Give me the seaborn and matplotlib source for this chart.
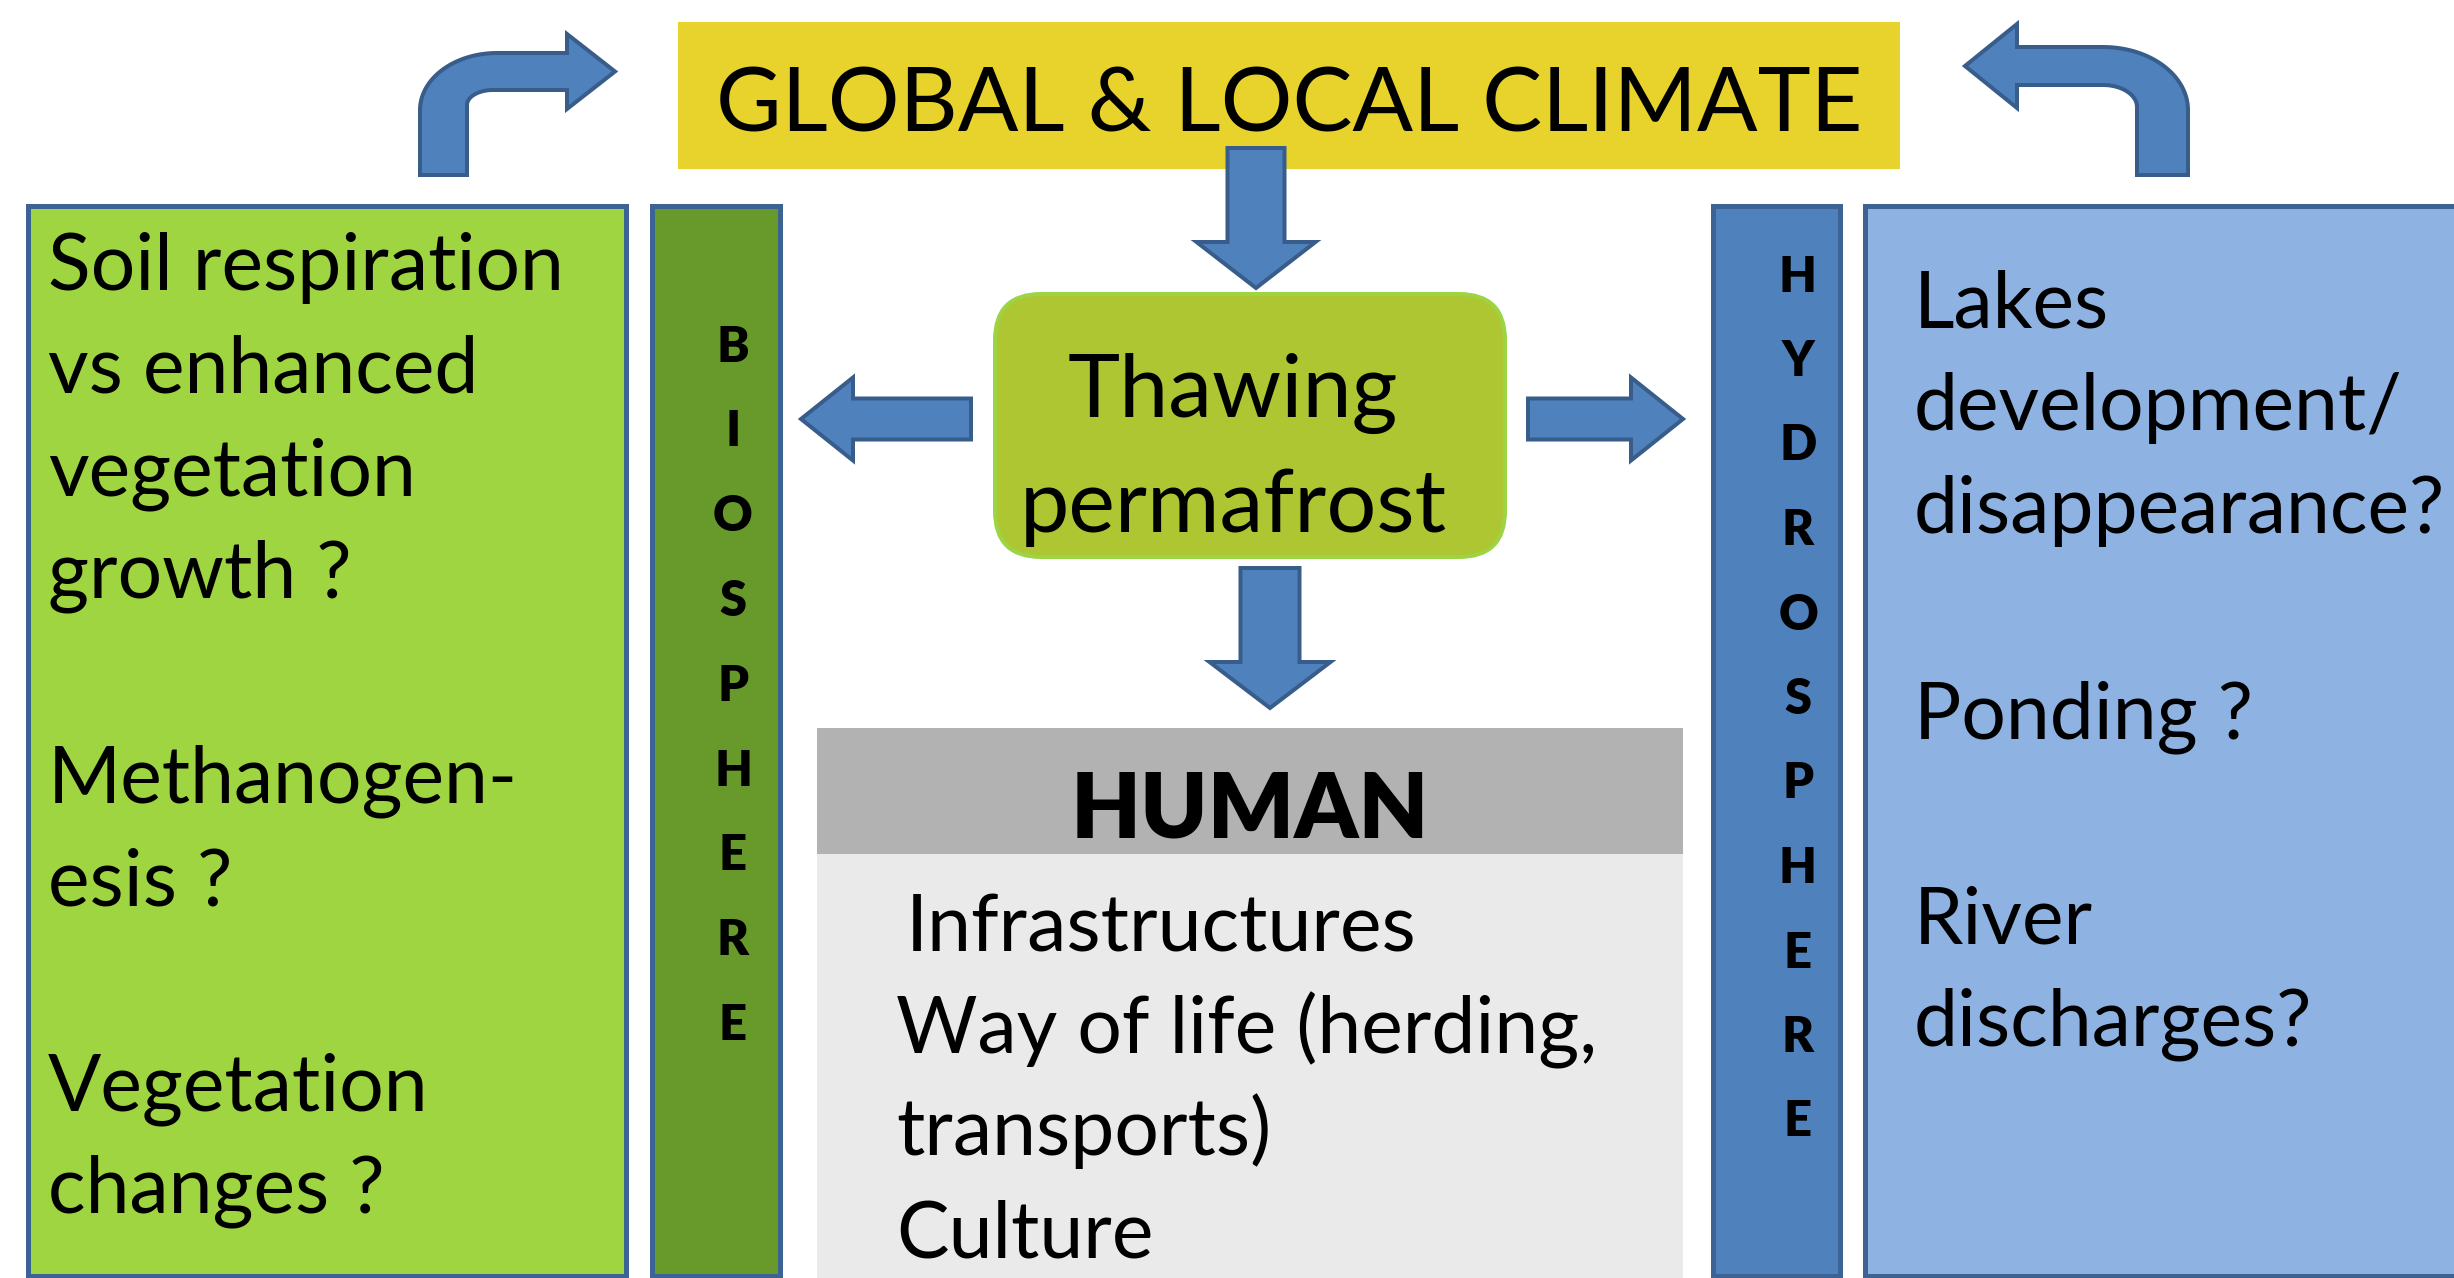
import matplotlib
matplotlib.use("Agg")
import numpy as np
import matplotlib.pyplot as plt
import seaborn as sns
from matplotlib import font_manager
from matplotlib.patches import Rectangle, FancyBboxPatch, Polygon
from matplotlib.path import Path

# ================= Text content =================
TITLE = "GLOBAL & LOCAL CLIMATE"
CENTER_LINES = ["Thawing", "permafrost"]
BIO_LINES = ["Soil respiration", "vs enhanced", "vegetation", "growth ?", "",
             "Methanogen-", "esis ?", "", "Vegetation", "changes ?"]
HYDRO_LINES = ["Lakes", "development/", "disappearance?", "", "Ponding ?", "",
               "River", "discharges?"]
HUMAN_TITLE = "HUMAN"
HUMAN_LINES = ["Infrastructures", "Way of life (herding,", "transports)", "Culture"]
BIO_LABEL = "BIOSPHERE"
HYDRO_LABEL = "HYDROSPHERE"

# ================= Colours =================
C = {
    "yellow": "#E8D22C",
    "bio_box": "#9FD540",
    "bio_bar": "#679A2A",
    "center": "#ADC632",
    "center_edge": "#9CD444",
    "hydro_bar": "#4F81BD",
    "hydro_box": "#8EB3E2",
    "edge": "#3D6394",
    "arrow": "#4F81BD",
    "arrow_edge": "#385D8A",
    "human_head": "#B2B2B2",
    "human_body": "#EAEAEA",
}

sns.set_theme(style="white")
available = {f.name for f in font_manager.fontManager.ttflist}
FONT = next(f for f in ["Lato", "Open Sans", "Noto Sans", "DejaVu Sans"] if f in available)
plt.rcParams["font.family"] = [FONT, "DejaVu Sans"]
plt.rcParams["text.color"] = "black"

W, H = 2454, 1278
fig = plt.figure(figsize=(W / 100, H / 100), dpi=100)
ax = fig.add_axes([0, 0, 1, 1])
ax.set_xlim(0, W)
ax.set_ylim(H, 0)
ax.axis("off")
renderer = fig.canvas.get_renderer()

PX = 72 / 100  # pixel -> point


def fit(text, width_px, weight="normal"):
    """font size (pt) so that text spans width_px pixels"""
    t = ax.text(0, 0, text, fontsize=40, fontweight=weight)
    w = t.get_window_extent(renderer).width
    t.remove()
    return 40 * width_px / w


def box(x0, y0, x1, y1, fc, ec=None, lw=5, z=1):
    ax.add_patch(Rectangle((x0, y0), x1 - x0, y1 - y0, fc=fc,
                           ec=ec if ec else "none", lw=lw * PX, zorder=z))


def block_arrow(x0, y0, x1, y1, shaft, head, head_len):
    d = np.array([x1 - x0, y1 - y0], float)
    L = np.hypot(*d)
    u = d / L
    n = np.array([-u[1], u[0]])
    p0 = np.array([x0, y0], float)
    b = p0 + u * (L - head_len)
    pts = [p0 + n * shaft, b + n * shaft, b + n * head, p0 + u * L,
           b - n * head, b - n * shaft, p0 - n * shaft]
    ax.add_patch(Polygon(pts, closed=True, fc=C["arrow"], ec=C["arrow_edge"],
                         lw=4 * PX, joinstyle="miter", zorder=4))


def bent_arrow(outer_x, inner_x, bottom, top, inner_y, out_r, in_r, head_x, head_half, tip_x):
    s = np.sign(tip_x - outer_x)
    th = np.linspace(0, np.pi / 2, 30)
    oc = (outer_x + s * out_r[0], top + out_r[1])
    outer = np.column_stack([oc[0] - s * out_r[0] * np.cos(th), oc[1] - out_r[1] * np.sin(th)])
    ic = (inner_x + s * in_r[0], inner_y + in_r[1])
    inner = np.column_stack([ic[0] - s * in_r[0] * np.cos(th[::-1]), ic[1] - in_r[1] * np.sin(th[::-1])])
    mid = (top + inner_y) / 2
    pts = [(outer_x, bottom)] + list(map(tuple, outer)) + [
        (head_x, top), (head_x, mid - head_half), (tip_x, mid),
        (head_x, mid + head_half), (head_x, inner_y)] + list(map(tuple, inner)) + [
        (inner_x, bottom)]
    ax.add_patch(Polygon(pts, closed=True, fc=C["arrow"], ec=C["arrow_edge"],
                         lw=4 * PX, joinstyle="miter", zorder=4))


# ================= Boxes =================
box(678, 22, 1900, 169, C["yellow"])
box(27.5, 205.5, 625.5, 1275.5, C["bio_box"], C["edge"])
box(651.5, 205.5, 779.5, 1275.5, C["bio_bar"], C["edge"])
box(1712.5, 205.5, 1839.5, 1275.5, C["hydro_bar"], C["edge"])
box(1864.5, 205.5, 2480, 1275.5, C["hydro_box"], C["edge"])
box(817, 728, 1683, 854, C["human_head"])
box(817, 854, 1683, 1290, C["human_body"])
ax.add_patch(FancyBboxPatch((995, 294), 510, 263, boxstyle="round,pad=0,rounding_size=46",
                            fc=C["center"], ec=C["center_edge"], lw=4 * PX, zorder=2))

# ================= Arrows =================
block_arrow(1256, 148, 1256, 288, 28.5, 59.5, 46)
block_arrow(971, 419, 801, 419, 20.5, 41.5, 52)
block_arrow(1528, 419, 1683, 419, 20.5, 41.5, 52)
block_arrow(1270, 568, 1270, 708, 29.5, 60.5, 46)
bent_arrow(420, 467, 175, 53, 90, (77, 57), (26, 15), 567, 37.5, 615)
bent_arrow(2188, 2137, 175, 47, 85, (85, 63), (34, 22), 2017, 42, 1965)

# ================= Text =================
ax.text(1289, 132, TITLE, fontsize=fit(TITLE, 1146), ha="center", va="baseline", zorder=5)

fs = fit(CENTER_LINES[1], 427)
for i, line in enumerate(CENTER_LINES):
    ax.text(1233, 417 + i * 115, line, fontsize=fs, ha="center", va="baseline", zorder=5)

fs = fit(BIO_LINES[0], 516)
for i, line in enumerate(BIO_LINES):
    ax.text(48, 290 + i * 102.5, line, fontsize=fs, ha="left", va="baseline", zorder=5)

fs = fit(HYDRO_LINES[1], 489)
for i, line in enumerate(HYDRO_LINES):
    ax.text(1914, 328 + i * 102.5, line, fontsize=fs, ha="left", va="baseline", zorder=5)

ax.text(1250, 837, HUMAN_TITLE, fontsize=fit(HUMAN_TITLE, 358, "heavy"), fontweight="heavy",
        ha="center", va="baseline", zorder=5)
fs = fit(HUMAN_LINES[1], 701)
for i, line in enumerate(HUMAN_LINES):
    # first line sits slightly indented in the original
    ax.text(896 + (10 if i == 0 else 0), 952 + i * 101.7, line, fontsize=fs,
            ha="left", va="baseline", zorder=5)

# vertical letter labels
cap = 35
fs = cap / 0.7165 * PX
for i, ch in enumerate(BIO_LABEL):
    ax.text(733, 344 + i * 84.8 + cap / 2, ch, fontsize=fs, fontweight="heavy",
            ha="center", va="baseline", zorder=5)
for i, ch in enumerate(HYDRO_LABEL):
    ax.text(1798, 274 + i * 84.5 + cap / 2, ch, fontsize=fs, fontweight="heavy",
            ha="center", va="baseline", zorder=5)

fig.savefig("out.png", dpi=100, facecolor="white")
